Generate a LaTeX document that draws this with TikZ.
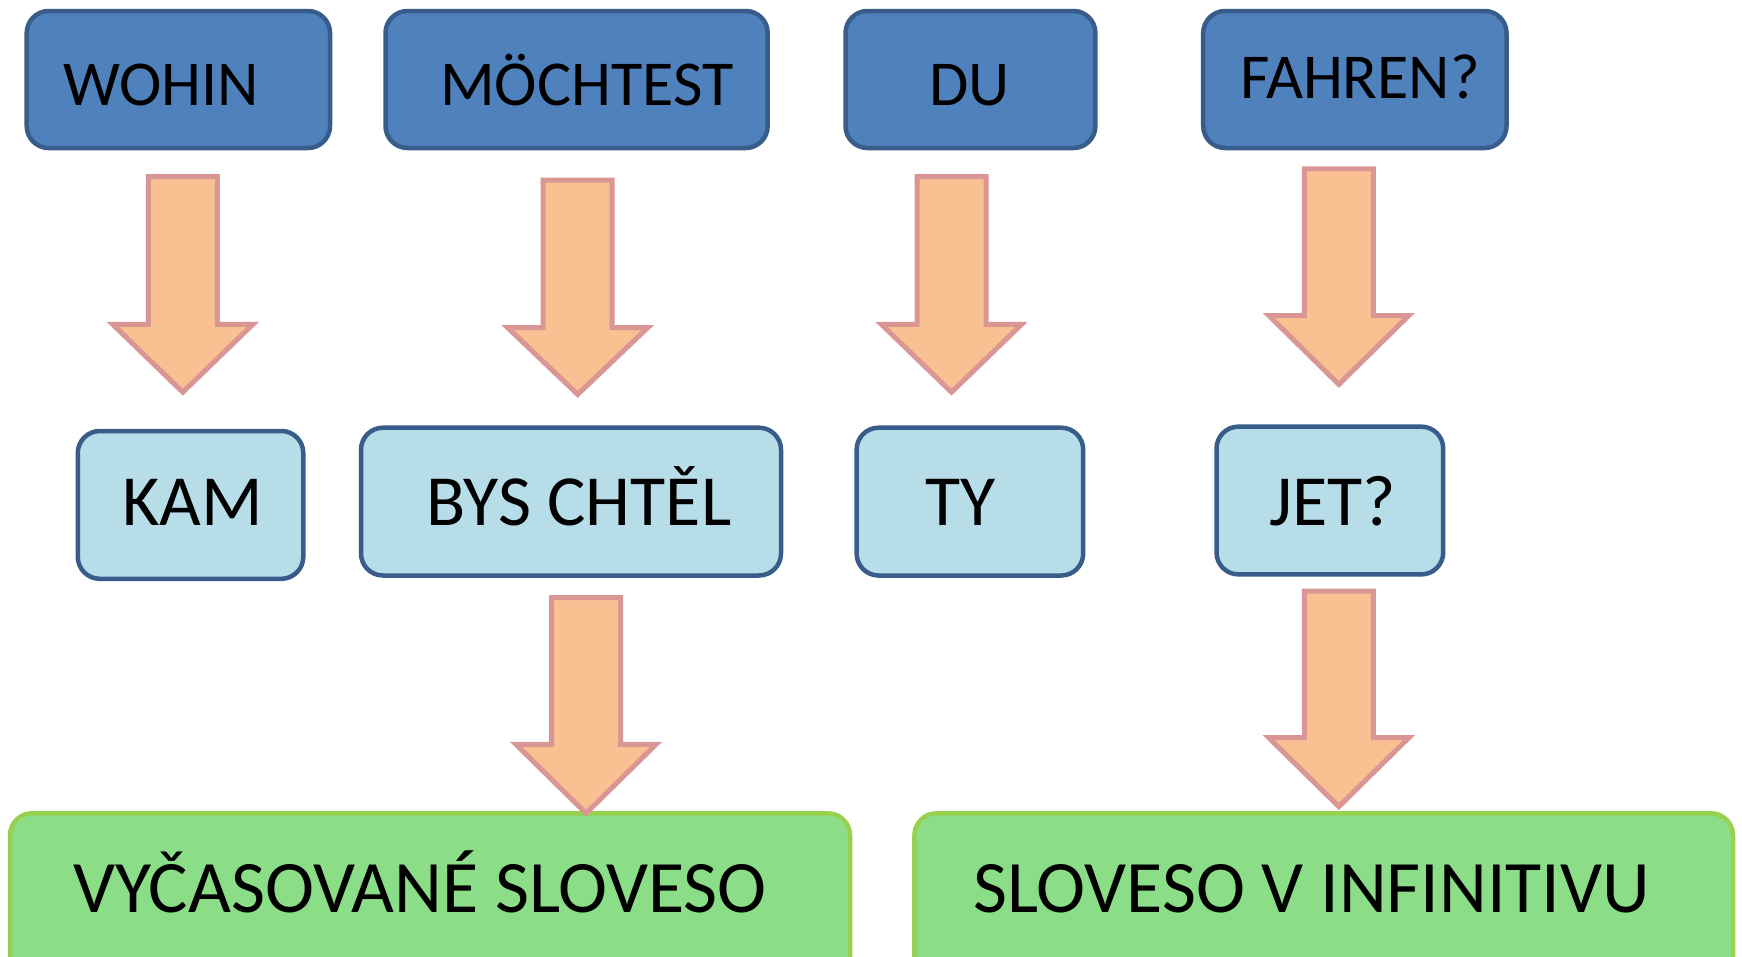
\documentclass[tikz,border=0pt]{standalone}
\usepackage{fontspec}
\setmainfont{Carlito}
\definecolor{topfill}{HTML}{4F81BD}
\definecolor{boxline}{HTML}{385D8A}
\definecolor{midfill}{HTML}{B7DDE8}
\definecolor{botfill}{HTML}{8BDE87}
\definecolor{botline}{HTML}{98D050}
\definecolor{arrfill}{HTML}{F9C091}
\definecolor{arrline}{HTML}{D99694}
\tikzset{
  topbox/.style={draw=boxline, fill=topfill, line width=4.5pt, rounded corners=22pt},
  midbox/.style={draw=boxline, fill=midfill, line width=4.5pt, rounded corners=22pt},
  botbox/.style={draw=botline, fill=botfill, line width=4.5pt, rounded corners=22pt},
  blockarr/.style={draw=arrline, fill=arrfill, line width=5pt, line join=miter},
  toptext/.style={anchor=base west, inner sep=0pt, font=\fontsize{64}{64}\selectfont},
  midtext/.style={anchor=base west, inner sep=0pt, font=\fontsize{72}{72}\selectfont},
  bottext/.style={anchor=base west, inner sep=0pt, font=\fontsize{74}{74}\selectfont},
}
% x centre, shaft top, head base, tip
\newcommand{\mybarrow}[4]{%
  \draw[blockarr] (#1-34.5,#2) -- (#1+34.5,#2) -- (#1+34.5,#3) -- (#1+70,#3)
    -- (#1,#4) -- (#1-70,#3) -- (#1-34.5,#3) -- cycle;}
\begin{document}
\begin{tikzpicture}[x=1pt,y=-1pt]
\clip (0,0) rectangle (1742,956);
\fill[white] (0,0) rectangle (1742,956);
% top boxes
\draw[topbox] (26.7,11) rectangle (330,148);
\draw[topbox] (385.5,11) rectangle (767.7,148);
\draw[topbox] (845.5,11) rectangle (1095.4,148);
\draw[topbox] (1203.2,11) rectangle (1506.5,148);
\node[toptext] (wohin) at (63,105.5) {WOHIN};
\node[toptext] (mochtest) at (440,105.5) {MÖCHTEST};
\node[toptext] (du) at (929,105.5) {DU};
\node[toptext] (fahren) at (1240,98) {FAHREN?};
% middle boxes
\draw[midbox] (77.8,431) rectangle (303.3,578.8);
\draw[midbox] (361,427.7) rectangle (781,575.5);
\draw[midbox] (856.6,427.7) rectangle (1083.2,575.5);
\draw[midbox] (1216.5,426.6) rectangle (1443.2,574.4);
\node[midtext] (kam) at (122,525.5) {KAM};
\node[midtext] (bys) at (426.5,525.5) {BYS CHTĚL};
\node[midtext] (ty) at (925.5,525.5) {TY};
\node[midtext] (jet) at (1269,525.5) {JET?};
% bottom boxes
\draw[botbox] (10,813.3) rectangle (850,1000);
\draw[botbox] (914.4,813.3) rectangle (1733,1000);
\node[bottext] (vycas) at (73,912) {VYČASOVANÉ SLOVESO};
\node[bottext] (infin) at (973,912) {SLOVESO V INFINITIVU};
% block arrows
\mybarrow{182.8}{176.6}{324.4}{392.2}
\mybarrow{577.7}{180}{327.7}{394.4}
\mybarrow{951.5}{176.6}{324.4}{392.2}
\mybarrow{1338.8}{168.9}{315.5}{384.4}
\mybarrow{586}{597.7}{744.4}{813.3}
\mybarrow{1338.8}{591}{737.7}{806.6}
\end{tikzpicture}
\end{document}
